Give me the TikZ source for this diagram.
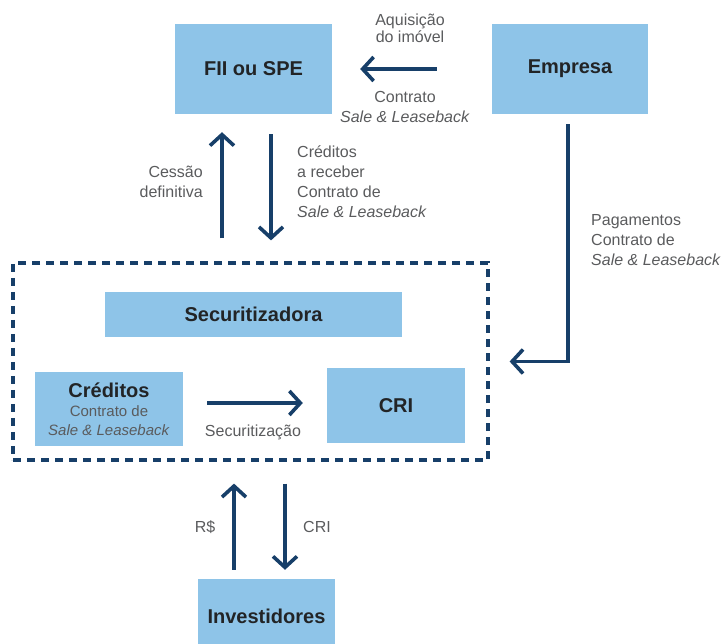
\documentclass[tikz,border=0pt]{standalone}
\usepackage{fontspec}
\setmainfont{Liberation Sans}
\usetikzlibrary{arrows.meta}
\definecolor{boxblue}{HTML}{8EC4E8}
\definecolor{navy}{HTML}{173F69}
\definecolor{labelgray}{HTML}{5A5B5D}
\definecolor{boxtext}{HTML}{222426}
\begin{document}
\begin{tikzpicture}[x=1pt,y=-1pt,
    blk/.style={fill=boxblue,text=boxtext,font=\fontsize{20}{24}\selectfont\bfseries,inner sep=0pt},
    lbl/.style={text=labelgray,font=\fontsize{16}{20}\selectfont,inner sep=0pt},
    flow/.style={draw=navy,line width=3.6pt,-{Straight Barb[length=11pt,width=24pt]}}]
      \useasboundingbox (0,0) rectangle (726,644);

      \node[draw=navy,line width=3.2pt,dash pattern=on 8pt off 6pt,minimum width=475pt,minimum height=197pt,inner sep=0pt] (secbox) at (250.5,361.5) {};

      \node[blk,minimum width=157pt,minimum height=90pt] (fii) at (253.5,69) {FII ou SPE};
      \node[blk,minimum width=156pt,minimum height=90pt] (empresa) at (570,69) {Empresa};
      \node[blk,minimum width=297pt,minimum height=45pt] (secur) at (253.5,314.5) {Securitizadora};
      \node[blk,minimum width=148pt,minimum height=74pt,align=center,text=labelgray,font=\fontsize{15}{19}\selectfont] (creditos) at (109,409)
        {{\fontsize{20}{20}\selectfont\bfseries\color{boxtext}Créditos}\\Contrato de\\\textit{Sale \& Leaseback}};
      \node[blk,minimum width=138pt,minimum height=75pt] (cri) at (396,405.5) {CRI};
      \node[blk,minimum width=137pt,minimum height=65pt,text height=27pt,text depth=4pt] (invest) at (266.5,611.5) {Investidores};

      \node[lbl,align=center,font=\fontsize{16}{17}\selectfont] (aquis) at (410,28.5) {Aquisição\\do imóvel};
      \node[lbl,align=center] (contr) at (405,106.5) {Contrato\\\textit{Sale \& Leaseback}};
      \node[lbl,align=right,anchor=east] (cessao) at (203,182) {Cessão\\definitiva};
      \node[lbl,align=left,anchor=west] (receb) at (297,181.5) {Créditos\\a receber\\Contrato de\\\textit{Sale \& Leaseback}};
      \node[lbl,align=left,anchor=west] (pagam) at (591,240) {Pagamentos\\Contrato de\\\textit{Sale \& Leaseback}};
      \node[lbl] (securlbl) at (253,432) {Securitização};
      \node[lbl] (reais) at (205,527) {R\$};
      \node[lbl] (crilbl) at (317,527) {CRI};

      \draw[flow,shorten <=55pt,shorten >=28pt] (empresa) -- (fii);
      \draw[flow,shorten <=23pt,shorten >=18pt] ([xshift=-31.5pt]fii.south |- secbox.north) -- ([xshift=-31.5pt]fii.south);
      \draw[flow,shorten <=20pt,shorten >=21pt] ([xshift=17.5pt]fii.south) -- ([xshift=17.5pt]fii.south |- secbox.north);
      \draw[flow,shorten <=10pt,shorten >=20pt] ([xshift=-2pt]empresa.south) |- (secbox.east);
      \draw[flow,shorten <=24pt,shorten >=24pt] ([yshift=2.5pt]cri.west -| creditos.east) -- ([yshift=2.5pt]cri.west);
      \draw[flow,shorten <=9pt,shorten >=22pt] ([xshift=-32.5pt]invest.north) -- ([xshift=-32.5pt]invest.north |- secbox.south);
      \draw[flow,shorten <=22pt,shorten >=9pt] ([xshift=18.5pt]invest.north |- secbox.south) -- ([xshift=18.5pt]invest.north);
\end{tikzpicture}
\end{document}
